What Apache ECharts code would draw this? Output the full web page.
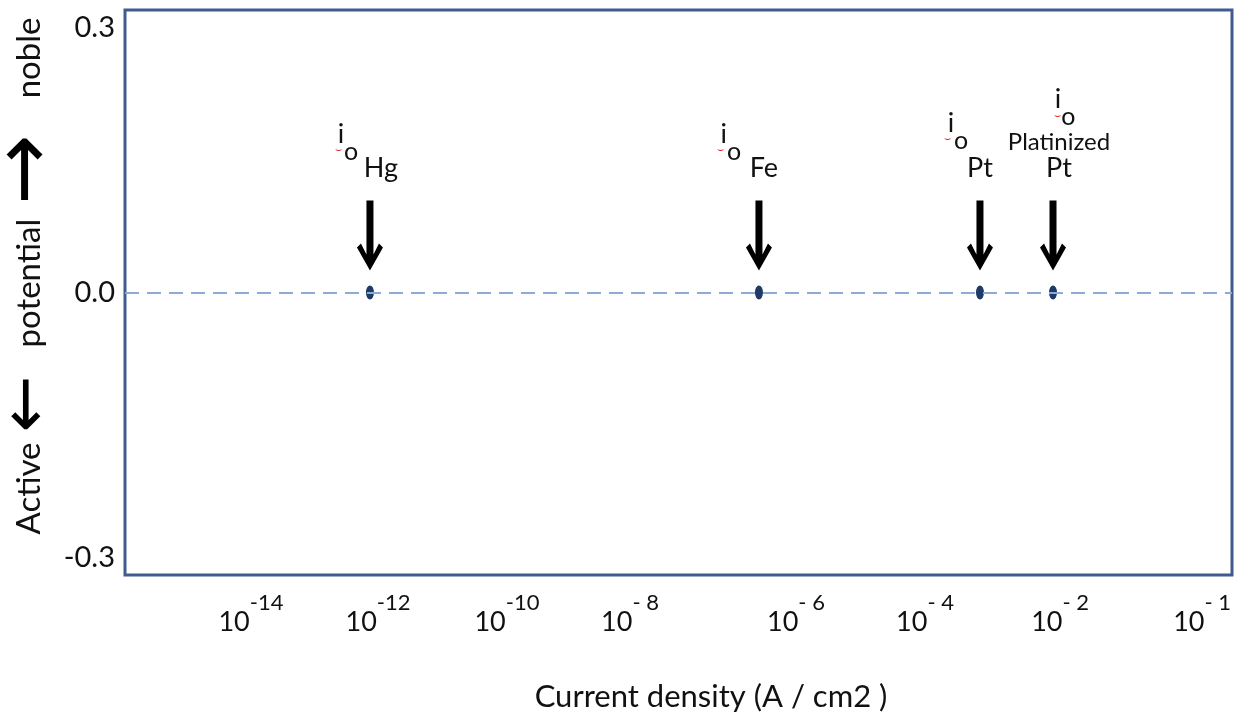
<!DOCTYPE html>
<html>
<head>
<meta charset="utf-8">
<script src="https://cdn.jsdelivr.net/npm/echarts@6/dist/echarts.min.js"></script>
<style>
    html, body { margin: 0; padding: 0; background: #fff; }
    #chart { width: 1248px; height: 715px; }
</style>
</head>
<body>
<div id="chart"></div>
<script>
// schematic position of each exchange current density on the x axis
const metals = ['Hg', 'Fe', 'Pt', 'Platinized Pt'];
const metalPos = [0.875, 3.735, 5.36, 5.897];
const metalPotential = [0, 0, 0, 0];

// x tick labels: 10^exp, placed at their (uneven) schematic positions
const tickPos = [0, 0.934, 1.882, 2.787, 4.007, 4.956, 5.949, 6.993];
const tickExp = ['-14', '-12', '-10', '- 8', '- 6', '- 4', '- 2', '- 1'];

const potentialTicks = [-0.3, 0, 0.3];

const FONT = 'Lato';
const TEXT = '#111';

function nearestTick(v) {
    let best = 0;
    tickPos.forEach((p, i) => {
        if (Math.abs(p - v) < Math.abs(tickPos[best] - v)) best = i;
    });
    return best;
}

// label placement (pixels from the point), not data
const ioOffset = {'Hg': [-22, -150], 'Fe': [-28, -150], 'Pt': [-22, -161], 'Platinized Pt': [12, -185]};
const nameOffset = {'Hg': [11, -124], 'Fe': [5, -124], 'Pt': [0, -124], 'Platinized Pt': [6, -137]};
const squiggleOffset = {'Hg': [-31, -143], 'Fe': [-38, -143], 'Pt': [-32, -154], 'Platinized Pt': [4, -177]};

function nameText(name) {
    const parts = name.split(' ');
    if (parts.length > 1) return '{p|' + parts[0] + '}\n{n|' + parts[1] + '}';
    return '{n|' + name + '}';
}

function labelSeries(name, label, offsets) {
    return {
        name: name,
        type: 'scatter',
        z: 4,
        symbolSize: 0,
        itemStyle: {opacity: 1},
        label: Object.assign({show: true, position: 'inside'}, label),
        data: metals.map((m, i) => ({
            name: m,
            value: [metalPos[i], metalPotential[i]],
            label: {offset: offsets[m]}
        }))
    };
}

const arrowPath = 'path://M9.5,0 L16.5,0 L16.5,54 L22,43 L26,47 L13,70 L0,47 L4,43 L9.5,54 Z';

let option = {
    animation: false,
    grid: {
        left: 125, right: 16, top: 10, bottom: 140,
        outerBoundsMode: 'none',
        show: true,
        borderColor: '#3e5d8c',
        borderWidth: 3
    },
    xAxis: {
        type: 'value',
        min: -0.926,
        max: 7.213,
        axisLine: {show: false},
        axisTick: {show: false},
        splitLine: {show: false},
        axisLabel: {
            customValues: tickPos,
            margin: 17,
            formatter: function (v) {
                return '{b|10}{s|' + tickExp[nearestTick(v)] + '}';
            },
            rich: {
                b: {fontFamily: FONT, fontSize: 27, color: TEXT, lineHeight: 44, verticalAlign: 'bottom'},
                s: {fontFamily: FONT, fontSize: 22, color: TEXT, lineHeight: 24, verticalAlign: 'top'}
            }
        },
        name: 'Current density (A / cm2 )',
        nameLocation: 'middle',
        nameMoveOverlap: false,
        nameGap: 106,
        nameTextStyle: {fontFamily: FONT, fontSize: 31, color: TEXT, padding: [0, 0, 0, 65]}
    },
    yAxis: {
        type: 'value',
        min: -0.32,
        max: 0.32,
        axisLine: {show: false},
        axisTick: {show: false},
        splitLine: {show: false},
        axisLabel: {
            customValues: potentialTicks,
            margin: 10,
            fontFamily: FONT,
            fontSize: 29,
            color: TEXT,
            formatter: v => v.toFixed(1)
        },
        name: '{t|Active}{dn|←}{t|potential}{up|→}{t|noble}',
        nameLocation: 'middle',
        nameRotate: 90,
        nameMoveOverlap: false,
        nameGap: 78,
        nameTextStyle: {
            padding: [0, 0, 0, 33],
            rich: {
                t: {fontFamily: FONT, fontSize: 33, color: TEXT, verticalAlign: 'middle', lineHeight: 36},
                dn: {fontFamily: 'DejaVu Sans', fontSize: 68, color: '#000',
                    verticalAlign: 'middle', lineHeight: 36, padding: [0, 28, 0, 10]},
                up: {fontFamily: 'DejaVu Sans', fontSize: 84, color: '#000',
                    verticalAlign: 'middle', lineHeight: 36, padding: [0, 36, 0, 14]}
            }
        }
    },
    series: [
        {
            name: 'zero',
            type: 'scatter',
            data: [],
            z: 1,
            markLine: {
                silent: true,
                symbol: 'none',
                label: {show: false},
                lineStyle: {color: '#8eaad6', width: 2, type: [14, 8]},
                data: [{yAxis: 0}]
            }
        },
        {
            name: 'arrows',
            type: 'scatter',
            z: 2,
            symbol: arrowPath,
            symbolSize: [26, 70],
            symbolOffset: [0, -57],
            itemStyle: {color: '#000', opacity: 1},
            data: metals.map((m, i) => [metalPos[i], metalPotential[i]])
        },
        labelSeries('io label', {
            formatter: '{i|i}{o|o}',
            rich: {
                i: {fontFamily: FONT, fontSize: 27, color: TEXT, verticalAlign: 'top'},
                o: {fontFamily: FONT, fontSize: 25, color: TEXT, verticalAlign: 'top', padding: [19, 0, 0, 0]}
            }
        }, ioOffset),
        labelSeries('spell mark', {
            formatter: '⌣',
            fontFamily: 'DejaVu Sans',
            fontSize: 11,
            color: '#e8302a'
        }, squiggleOffset),
        labelSeries('metal label', {
            formatter: p => nameText(p.name),
            rich: {
                n: {fontFamily: FONT, fontSize: 27, color: TEXT, lineHeight: 27},
                p: {fontFamily: FONT, fontSize: 24, color: TEXT, lineHeight: 25}
            }
        }, nameOffset),
        {
            name: 'io',
            type: 'scatter',
            z: 3,
            symbol: 'circle',
            symbolSize: [8, 14],
            itemStyle: {color: '#1f3a66', opacity: 1},
            data: metals.map((m, i) => [metalPos[i], metalPotential[i]])
        }
    ]
};

let myChart = echarts.init(document.getElementById('chart'));
myChart.setOption(option);
</script>
</body>
</html>
